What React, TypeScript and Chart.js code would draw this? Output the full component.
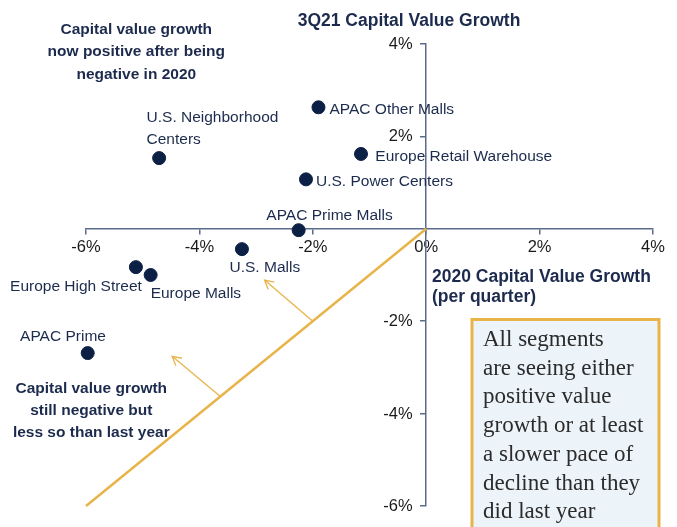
import React, { useEffect, useRef } from 'react';
import { Chart, registerables } from 'chart.js';

Chart.register(...registerables);

// ---- data ----
const segmentLabels: string[][] = [
  ['APAC Other Malls'],
  ['Europe Retail Warehouse'],
  ['U.S. Power Centers'],
  ['U.S. Neighborhood', 'Centers'],
  ['APAC Prime Malls'],
  ['U.S. Malls'],
  ['Europe High Street'],
  ['Europe Malls'],
  ['APAC Prime'],
];
const growth2020 = [-1.9, -1.15, -2.12, -4.71, -2.25, -3.25, -5.12, -4.86, -5.97];
const growth3Q21 = [2.63, 1.62, 1.07, 1.53, -0.03, -0.44, -0.83, -1.0, -2.69];
const xTicks = [-6, -4, -2, 0, 2, 4];
const yTicks = [-6, -4, -2, 2, 4];
const parityX = [-6, 0];
const parityY = [-6, 0];
const arrowTails = [[-2, -2], [-3.63, -3.63]];
const arrowTips = [[-2.85, -1.11], [-4.48, -2.76]];

const chartTitle = '3Q21 Capital Value Growth';
const xTitle = ['2020 Capital Value Growth', '(per quarter)'];
const upperNote = ['Capital value growth', 'now positive after being', 'negative in 2020'];
const lowerNote = ['Capital value growth', 'still negative but', 'less so than last year'];
const boxNote = ['All segments', 'are seeing either', 'positive value', 'growth or at least', 'a slower pace of', 'decline than they', 'did last year'];

// ---- styles / layout ----
const NAVY = '#0c1f45';
const TEXT_NAVY = '#1c2b4d';
const GOLD = '#e8b44a';
const AXIS = '#5b6b8a';
const SANS = '"Liberation Sans", Arial, sans-serif';
const SERIF = '"Liberation Serif", "Times New Roman", serif';
const TICK_FONT = `16.5px ${SANS}`;

const labelOffsets = [
  { dx: 11, dy: 6.5, align: 'left' },
  { dx: 14.3, dy: 6.7, align: 'left' },
  { dx: 10, dy: 6.4, align: 'left' },
  { dx: -12.6, dy: -36, align: 'left' },
  { dx: -32.3, dy: -10.3, align: 'left' },
  { dx: -12.4, dy: 22.7, align: 'left' },
  { dx: 6, dy: 23.7, align: 'right' },
  { dx: 0, dy: 23.3, align: 'left' },
  { dx: -24.7, dy: -12.3, align: 'center' },
];

const annotationPlugin = {
  id: 'annotations',
  afterDatasetsDraw(chart: any) {
    const ctx = chart.ctx as CanvasRenderingContext2D;
    const xs = chart.scales.x;
    const ys = chart.scales.y;
    ctx.save();
    // arrows
    ctx.strokeStyle = GOLD;
    ctx.lineWidth = 1.3;
    arrowTails.forEach((t, i) => {
      const x1 = xs.getPixelForValue(t[0]);
      const y1 = ys.getPixelForValue(t[1]);
      const x2 = xs.getPixelForValue(arrowTips[i][0]);
      const y2 = ys.getPixelForValue(arrowTips[i][1]);
      ctx.beginPath();
      ctx.moveTo(x1, y1);
      ctx.lineTo(x2, y2);
      ctx.stroke();
      const ang = Math.atan2(y2 - y1, x2 - x1);
      const hl = 10;
      ctx.beginPath();
      ctx.moveTo(x2 - hl * Math.cos(ang - 0.5), y2 - hl * Math.sin(ang - 0.5));
      ctx.lineTo(x2, y2);
      ctx.lineTo(x2 - hl * Math.cos(ang + 0.5), y2 - hl * Math.sin(ang + 0.5));
      ctx.stroke();
    });
    // point labels
    const meta = chart.getDatasetMeta(0);
    ctx.fillStyle = TEXT_NAVY;
    ctx.font = `15.5px ${SANS}`;
    ctx.textBaseline = 'alphabetic';
    meta.data.forEach((pt: any, i: number) => {
      const o = labelOffsets[i];
      ctx.textAlign = o.align as CanvasTextAlign;
      segmentLabels[i].forEach((line, j) => {
        ctx.fillText(line, pt.x + o.dx, pt.y + o.dy + j * 21.7);
      });
    });
    ctx.restore();
  },
  afterDraw(chart: any) {
    const ctx = chart.ctx as CanvasRenderingContext2D;
    const xs = chart.scales.x;
    const ys = chart.scales.y;
    ctx.save();
    // y tick labels (left of the centred y axis)
    const axisX = xs.getPixelForValue(0);
    ctx.fillStyle = '#1a1a1a';
    ctx.font = TICK_FONT;
    ctx.textAlign = 'right';
    ctx.textBaseline = 'middle';
    ys.ticks.forEach((t: any) => {
      ctx.fillText(`${t.value}%`, axisX - 13.5, ys.getPixelForValue(t.value) + 0.5);
    });
    ctx.textBaseline = 'alphabetic';
    // title
    ctx.fillStyle = TEXT_NAVY;
    ctx.font = `bold 17.5px ${SANS}`;
    ctx.textAlign = 'center';
    ctx.fillText(chartTitle, 409, 26);
    // x axis title
    ctx.textAlign = 'left';
    xTitle.forEach((l, i) => ctx.fillText(l, 432, 281.7 + i * 20));
    // notes
    ctx.font = `bold 15.5px ${SANS}`;
    ctx.textAlign = 'center';
    upperNote.forEach((l, i) => ctx.fillText(l, 136.3, 34 + i * 22.4));
    lowerNote.forEach((l, i) => ctx.fillText(l, 91.3, 392.7 + i * 22.3));
    // text box
    ctx.fillStyle = '#edf4f9';
    ctx.fillRect(472, 319.5, 187, 230);
    ctx.strokeStyle = GOLD;
    ctx.lineWidth = 3;
    ctx.strokeRect(472, 319.5, 187, 230);
    ctx.fillStyle = '#2b2b2b';
    ctx.font = `23px ${SERIF}`;
    ctx.textAlign = 'left';
    boxNote.forEach((l, i) => ctx.fillText(l, 483, 346 + i * 28.7));
    ctx.restore();
  },
};

export default function App() {
  const ref = useRef<HTMLCanvasElement>(null);
  useEffect(() => {
    if (!ref.current) return;
    const chart = new Chart(ref.current, {
      type: 'scatter',
      data: {
        datasets: [
          {
            label: 'Segments',
            data: growth2020.map((x, i) => ({ x, y: growth3Q21[i] })),
            backgroundColor: NAVY,
            borderColor: NAVY,
            pointRadius: 6.5,
            pointHoverRadius: 6.5,
            clip: false as any,
            order: 0,
          },
          {
            type: 'line',
            label: 'Parity',
            data: parityX.map((x, i) => ({ x, y: parityY[i] })),
            borderColor: GOLD,
            borderWidth: 2.5,
            pointRadius: 0,
            showLine: true,
            fill: false,
            clip: false,
            order: 1,
          } as any,
        ],
      },
      options: {
        responsive: false,
        animation: false,
        layout: { padding: { left: 86, right: 24, top: 44, bottom: 21 } },
        plugins: {
          legend: { display: false },
          tooltip: { enabled: false },
          title: { display: false },
        },
        scales: {
          x: {
            type: 'linear',
            min: -6,
            max: 4,
            position: { y: 0 } as any,
            afterBuildTicks: (s: any) => {
              s.ticks = xTicks.map((v) => ({ value: v }));
            },
            ticks: {
              callback: (v: any) => `${v}%`,
              color: '#1a1a1a',
              font: { family: SANS, size: 16.5 },
              padding: 4,
              maxRotation: 0,
            },
            grid: { display: true, drawOnChartArea: false, drawTicks: true, tickLength: 5, color: AXIS, lineWidth: 1.5 },
            border: { display: true, color: AXIS, width: 1.5 },
          },
          y: {
            type: 'linear',
            min: -6,
            max: 4,
            position: { x: 0 } as any,
            afterBuildTicks: (s: any) => {
              s.ticks = yTicks.map((v) => ({ value: v }));
            },
            ticks: {
              display: false,
              callback: (v: any) => `${v}%`,
            },
            grid: { display: true, drawOnChartArea: false, drawTicks: true, tickLength: 5, color: AXIS, lineWidth: 1.5 },
            border: { display: true, color: AXIS, width: 1.5 },
          },
        },
      },
      plugins: [annotationPlugin],
    });
    return () => chart.destroy();
  }, []);
  return (
    <div style={{ position: 'absolute', left: 0, top: 0, width: 677, height: 527, background: '#fff' }}>
      <canvas ref={ref} width={677} height={527} style={{ display: 'block' }} />
    </div>
  );
}
